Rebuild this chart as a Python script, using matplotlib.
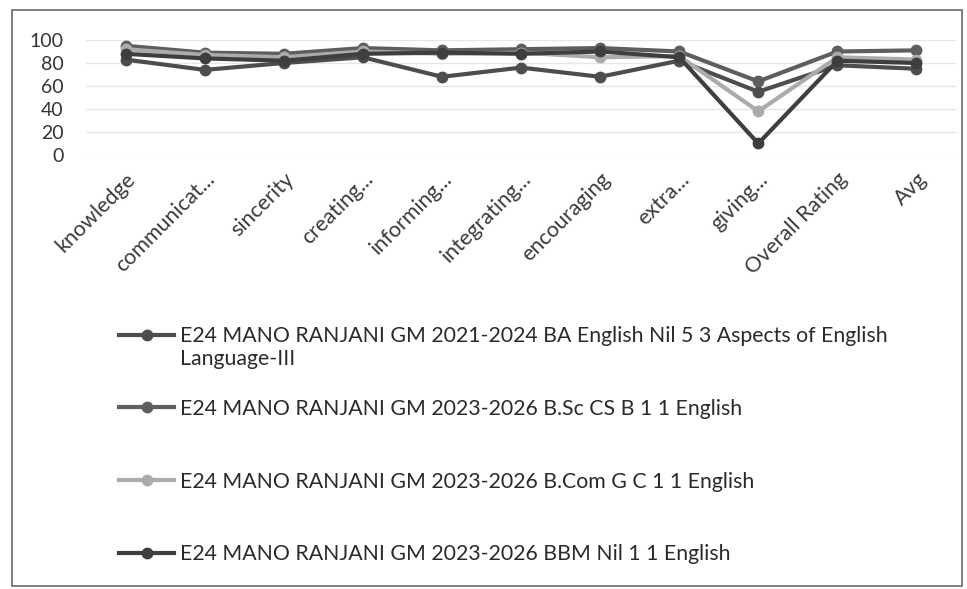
import matplotlib.pyplot as plt
from matplotlib.patches import Rectangle

# === DATA ===
categories = ["knowledge", "communicat...", "sincerity", "creating...", "informing...",
              "integrating...", "encouraging", "extra...", "giving...", "Overall Rating", "Avg"]

series_names = [
    "E24 MANO RANJANI GM 2021-2024 BA English Nil 5 3 Aspects of English\nLanguage-III",
    "E24 MANO RANJANI GM 2023-2026 B.Sc CS B 1 1 English",
    "E24 MANO RANJANI GM 2023-2026 B.Com G C 1 1 English",
    "E24 MANO RANJANI GM 2023-2026 BBM Nil 1 1 English",
]

ba_english = [83, 74, 80, 85, 68, 76, 68, 82, 55, 78, 75]
bsc_cs = [95, 89, 88, 93, 91, 92, 93, 90, 64, 90, 91]
bcom = [92, 87, 85, 90, 88, 89, 85, 86, 38, 85, 83]
bbm = [88, 84, 82, 88, 89, 88, 90, 85, 10, 82, 80]

series_values = [ba_english, bsc_cs, bcom, bbm]
colors = ["#4d4d4d", "#5e5e5e", "#ababab", "#3e3e3e"]
yticks = [0, 20, 40, 60, 80, 100]

plt.rcParams['font.family'] = ['Lato', 'DejaVu Sans']

W, H = 967, 589
fig = plt.figure(figsize=(W / 100, H / 100), dpi=100)
fig.patch.set_facecolor("white")

# chart frame
fig.patches.append(Rectangle((12 / W, 1 - 586 / H), 950 / W, 576 / H, transform=fig.transFigure,
                             fill=False, edgecolor="#6a6a6a", linewidth=1.2))

ax = fig.add_axes([86 / W, 1 - 155 / H, 870 / W, 115 / H])
x = list(range(len(categories)))
for vals, name, c in zip(series_values, series_names, colors):
    # legend shows only the first line, the wrapped rest is added below it
    ax.plot(x, vals, color=c, linewidth=3, marker="o", markersize=7.5,
            markerfacecolor=c, markeredgecolor=c, label=name.split("\n")[0])

ax.set_xlim(-0.5, len(categories) - 0.5)
ax.set_ylim(0, 100)
ax.set_yticks(yticks)
ax.set_yticklabels([str(v) for v in yticks], fontsize=14, color="#333333")
ax.set_xticks(x)
ax.set_xticklabels(categories, rotation=45, ha="right", rotation_mode="anchor",
                   fontsize=15.5, color="#3a3a3a")
ax.tick_params(axis="y", length=0, pad=16)
ax.tick_params(axis="x", length=0, pad=10)
ax.grid(axis="y", color="#e6e6e6", linewidth=1)
ax.set_axisbelow(True)
for s in ax.spines.values():
    s.set_visible(False)

leg = fig.legend(loc="upper left", bbox_to_anchor=(100 / W, 1 - 307 / H), frameon=False,
                 fontsize=15.3, labelspacing=2.48, handlelength=2.6, handletextpad=0.25,
                 labelcolor="#2a2a2a")

# wrapped continuation of the first legend label
fig.canvas.draw()
bb = leg.get_texts()[0].get_window_extent().transformed(fig.transFigure.inverted())
fig.text(bb.x0, bb.y0 - 3 / H, series_names[0].split("\n")[1], fontsize=15.3,
         color="#2a2a2a", ha="left", va="top")

fig.savefig("out.png", dpi=100)
